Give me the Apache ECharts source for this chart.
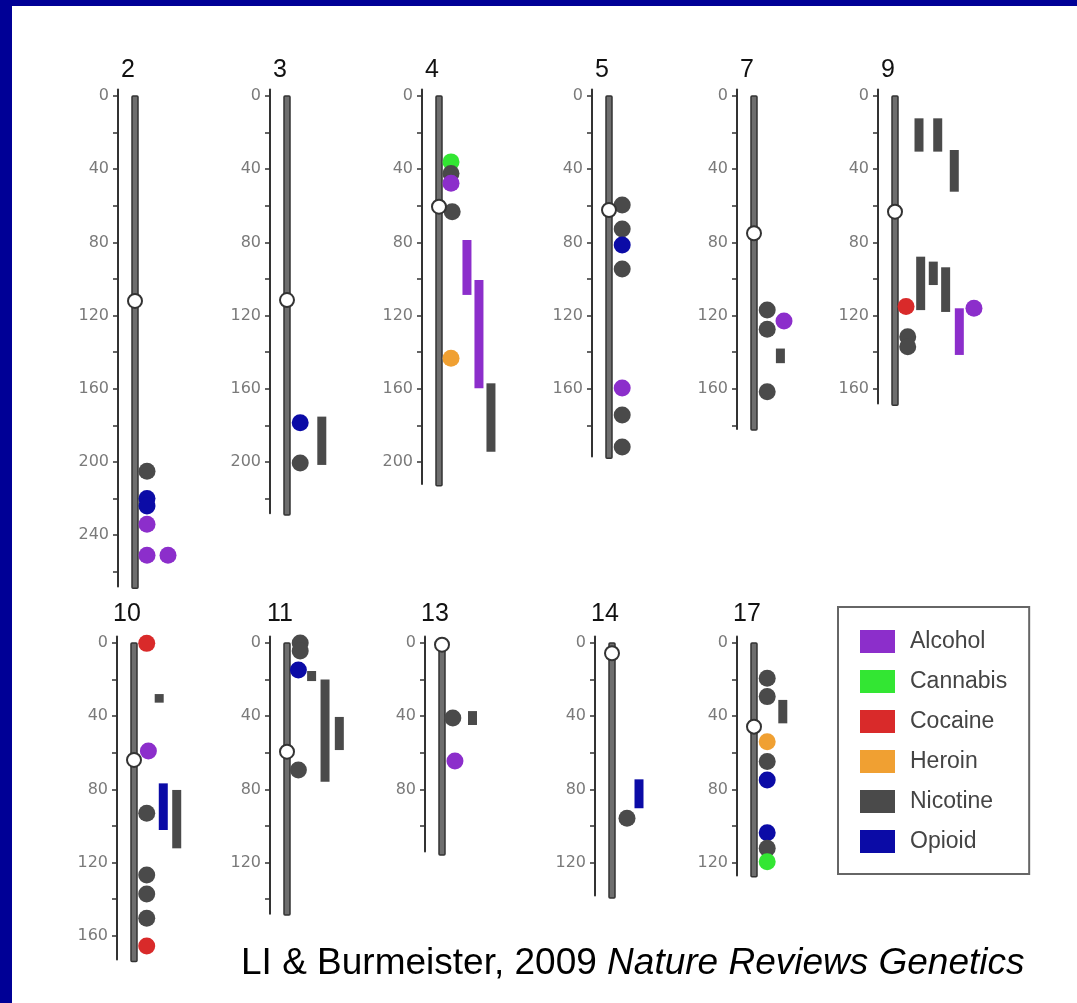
<!DOCTYPE html>
<html>
<head>
<meta charset="utf-8">
<script src="https://cdn.jsdelivr.net/npm/echarts@6/dist/echarts.min.js"></script>
<style>
html,body{margin:0;padding:0;background:#fff;}
#chart{width:1077px;height:1003px;}
</style>
</head>
<body>
<div id="chart"></div>
<script>
// ---------------- DATA (positions in Mb, lane = marker column beside the chromosome) ----------------
const traitNames = ['Alcohol', 'Cannabis', 'Cocaine', 'Heroin', 'Nicotine', 'Opioid'];
const chromosomeNames = ['2', '3', '4', '5', '7', '9', '10', '11', '13', '14', '17'];
const axisLengths = [268, 228, 212, 197, 182, 168, 173, 148, 114, 138, 127];
const chromosomeLengths = [269, 229, 213, 198, 182.5, 169, 174, 148.6, 115.8, 139.3, 127.7];
const centromerePositions = [112, 111.5, 60.5, 62.3, 75, 63.2, 63.9, 59.4, 0.9, 5.6, 45.7];

// loci: [trait, position Mb, lane]
const chr2Loci = [['Nicotine', 205, 1], ['Opioid', 220, 1], ['Opioid', 224, 1], ['Alcohol', 234, 1], ['Alcohol', 251, 1], ['Alcohol', 251, 2.75]];
const chr3Loci = [['Opioid', 178.5, 1.1], ['Nicotine', 200.5, 1.1]];
const chr4Loci = [['Cannabis', 36, 1], ['Nicotine', 42.3, 1], ['Alcohol', 47.7, 1], ['Nicotine', 63.2, 1.1], ['Heroin', 143.3, 1]];
const chr5Loci = [['Nicotine', 59.6, 1.1], ['Nicotine', 72.7, 1.1], ['Opioid', 81.4, 1.1], ['Nicotine', 94.5, 1.1], ['Alcohol', 159.6, 1.1], ['Nicotine', 174.3, 1.1], ['Nicotine', 191.8, 1.1]];
const chr7Loci = [['Nicotine', 117, 1.1], ['Alcohol', 123, 2.5], ['Nicotine', 127.5, 1.1], ['Nicotine', 161.6, 1.1]];
const chr9Loci = [['Cocaine', 115, 0.92], ['Alcohol', 116, 6.58], ['Nicotine', 131.5, 1.06], ['Nicotine', 137, 1.06]];
const chr10Loci = [['Cocaine', 0.2, 1.06], ['Alcohol', 59, 1.2], ['Nicotine', 93, 1.06], ['Nicotine', 126.8, 1.06], ['Nicotine', 137.2, 1.06], ['Nicotine', 150.4, 1.06], ['Cocaine', 165.6, 1.06]];
const chr11Loci = [['Nicotine', 0, 1.1], ['Nicotine', 4.4, 1.1], ['Opioid', 14.8, 0.95], ['Nicotine', 69.4, 0.95]];
const chr13Loci = [['Nicotine', 41, 0.9], ['Alcohol', 64.5, 1.08]];
const chr14Loci = [['Nicotine', 95.8, 1.25]];
const chr17Loci = [['Nicotine', 19.3, 1.1], ['Nicotine', 29.3, 1.1], ['Heroin', 53.9, 1.1], ['Nicotine', 64.8, 1.1], ['Opioid', 74.9, 1.1], ['Opioid', 103.7, 1.1], ['Nicotine', 112.2, 1.1], ['Cannabis', 119.5, 1.1]];

// regions: [trait, start Mb, end Mb, lane]
const chr2Regions = [];
const chr3Regions = [['Nicotine', 175.2, 201.6, 2.9]];
const chr4Regions = [['Alcohol', 78.7, 108.7, 2.33], ['Alcohol', 100.5, 159.7, 3.33], ['Nicotine', 157, 194.4, 4.33]];
const chr5Regions = [];
const chr7Regions = [['Nicotine', 138, 146, 2.2]];
const chr9Regions = [['Nicotine', 12.2, 30.4, 2], ['Nicotine', 12.2, 30.4, 3.56], ['Nicotine', 29.5, 52.3, 4.94], ['Nicotine', 87.8, 117, 2.14], ['Nicotine', 90.5, 103.3, 3.19], ['Nicotine', 93.6, 118, 4.22], ['Alcohol', 116, 141.5, 5.36]];
const chr10Regions = [['Nicotine', 27.9, 32.6, 2.1], ['Opioid', 76.7, 102.2, 2.44], ['Nicotine', 80.3, 112.2, 3.56]];
const chr11Regions = [['Nicotine', 15.3, 20.8, 2.05], ['Nicotine', 20, 75.8, 3.17], ['Nicotine', 40.4, 58.5, 4.36]];
const chr13Regions = [['Nicotine', 37.2, 44.8, 2.54]];
const chr14Regions = [['Opioid', 74.5, 90.3, 2.25]];
const chr17Regions = [['Nicotine', 31.1, 43.9, 2.4]];

const lociByChromosome = [chr2Loci, chr3Loci, chr4Loci, chr5Loci, chr7Loci, chr9Loci, chr10Loci, chr11Loci, chr13Loci, chr14Loci, chr17Loci];
const regionsByChromosome = [chr2Regions, chr3Regions, chr4Regions, chr5Regions, chr7Regions, chr9Regions, chr10Regions, chr11Regions, chr13Regions, chr14Regions, chr17Regions];

const citationPlain = 'LI & Burmeister, 2009 ';
const citationItalic = 'Nature Reviews Genetics';

// ---------------- LAYOUT & STYLE ----------------
const TRAIT_COLORS = {
  Alcohol: '#8c2ecb', Cannabis: '#33e633', Cocaine: '#d92a2a',
  Heroin: '#f0a032', Nicotine: '#4a4a4a', Opioid: '#0b0ba6'
};
const BAR_X = [135, 287, 439, 609, 754, 895, 134, 287, 442, 612, 754];
const PANEL_ROW = [0, 0, 0, 0, 0, 0, 1, 1, 1, 1, 1];
const ROW_ZERO_Y = [96, 643];
const ROW_TITLE_Y = [70, 614];
const MB_PX = 1.83;
const Y_MIN = -3.5;
const LANE_PX = 12;
const AXIS_GAP = 17;
const X_MAX = 7;
const X_MIN = -AXIS_GAP / LANE_PX;

const grids = [], xAxes = [], yAxes = [], series = [], graphics = [];

graphics.push({ type: 'rect', shape: { x: 0, y: 0, width: 12, height: 1003 }, style: { fill: '#000096' }, z: 100 });
graphics.push({ type: 'rect', shape: { x: 0, y: 0, width: 1077, height: 6 }, style: { fill: '#000096' }, z: 100 });

function renderChromosome(params, api) {
  const a = api.coord([api.value(0), api.value(1)]);
  const b = api.coord([api.value(0), api.value(2)]);
  return {
    type: 'rect',
    shape: { x: a[0] - 3, y: a[1], width: 6, height: b[1] - a[1], r: 1 },
    style: { fill: '#6e6e6e', stroke: '#333', lineWidth: 1.5 }
  };
}
function renderCentromere(params, api) {
  const p = api.coord([api.value(0), api.value(1)]);
  return {
    type: 'circle',
    shape: { cx: p[0], cy: p[1], r: 7 },
    style: { fill: '#fff', stroke: '#333', lineWidth: 2 }
  };
}
function renderMark(params, api) {
  const lane = api.value(0), start = api.value(1), end = api.value(2), kind = api.value(3);
  const color = api.visual('color');
  const a = api.coord([lane, start]);
  if (kind === 0) {
    return { type: 'circle', z2: Math.round(start * 10), shape: { cx: a[0], cy: a[1], r: 8.5 }, style: { fill: color } };
  }
  const b = api.coord([lane, end]);
  return { type: 'rect', z2: Math.round(start * 10), shape: { x: a[0] - 4.5, y: a[1], width: 9, height: b[1] - a[1] }, style: { fill: color } };
}

chromosomeNames.forEach((name, i) => {
  const row = PANEL_ROW[i];
  const axisLen = axisLengths[i];
  grids.push({
    left: BAR_X[i] - AXIS_GAP,
    top: ROW_ZERO_Y[row] + Y_MIN * MB_PX,
    width: (X_MAX - X_MIN) * LANE_PX,
    height: (axisLen - Y_MIN) * MB_PX,
    containLabel: false
  });
  xAxes.push({ gridIndex: i, type: 'value', min: X_MIN, max: X_MAX, show: false });
  const ticks = [], labels = [];
  for (let v = 0; v <= axisLen; v += 20) ticks.push(v);
  for (let v = 0; v <= axisLen; v += 40) labels.push(v);
  yAxes.push({
    gridIndex: i, type: 'value', inverse: true, min: Y_MIN, max: axisLen, position: 'left',
    axisLine: { show: true, onZero: false, lineStyle: { color: '#333', width: 2 } },
    axisTick: { show: true, length: 5, customValues: ticks, lineStyle: { color: '#333', width: 1.5 } },
    axisLabel: { customValues: labels, color: '#7a7a7a', fontSize: 16, fontFamily: 'DejaVu Sans', margin: 9 },
    splitLine: { show: false }
  });
  graphics.push({
    type: 'text', x: BAR_X[i] - 7, y: ROW_TITLE_Y[row], z: 100,
    style: { text: name, fontSize: 25, fontFamily: 'Liberation Sans', fill: '#111', align: 'center', verticalAlign: 'middle' }
  });
  series.push({
    type: 'custom', name: 'chromosome', xAxisIndex: i, yAxisIndex: i, z: 2, silent: true, clip: false,
    renderItem: renderChromosome, data: [[0, 0, chromosomeLengths[i]]]
  });
  series.push({
    type: 'custom', name: 'centromere', xAxisIndex: i, yAxisIndex: i, z: 4, silent: true, clip: false,
    renderItem: renderCentromere, data: [[0, centromerePositions[i]]]
  });
  traitNames.forEach(trait => {
    const data = [];
    lociByChromosome[i].forEach(d => { if (d[0] === trait) data.push([d[2], d[1], d[1], 0]); });
    regionsByChromosome[i].forEach(d => { if (d[0] === trait) data.push([d[3], d[1], d[2], 1]); });
    if (!data.length) return;
    series.push({
      type: 'custom', name: trait, xAxisIndex: i, yAxisIndex: i, z: 3, silent: true, clip: false,
      itemStyle: { color: TRAIT_COLORS[trait] },
      renderItem: renderMark, data: data
    });
  });
});

graphics.push({
  type: 'text', x: 241, y: 964, z: 100,
  style: {
    text: '{a|' + citationPlain + '}{b|' + citationItalic + '}',
    verticalAlign: 'middle',
    rich: {
      a: { fontSize: 37, fontFamily: 'Liberation Sans', fill: '#000' },
      b: { fontSize: 37, fontFamily: 'Liberation Sans', fontStyle: 'italic', fill: '#000' }
    }
  }
});

const chart = echarts.init(document.getElementById('chart'), null, { renderer: 'canvas' });
chart.setOption({
  animation: false,
  backgroundColor: '#fff',
  grid: grids,
  xAxis: xAxes,
  yAxis: yAxes,
  legend: {
    data: traitNames,
    orient: 'vertical',
    left: 838, top: 607,
    padding: [23, 22, 21, 22],
    itemGap: 17, itemWidth: 35, itemHeight: 23,
    icon: 'rect',
    selectedMode: false,
    borderColor: '#666', borderWidth: 2, backgroundColor: '#fff',
    formatter: name => '{t|' + name + '}',
    textStyle: {
      rich: { t: { fontSize: 23, fontFamily: 'Liberation Sans', color: '#444', padding: [0, 0, 0, 10], lineHeight: 23 } }
    }
  },
  graphic: graphics,
  series: series
});
</script>
</body>
</html>
